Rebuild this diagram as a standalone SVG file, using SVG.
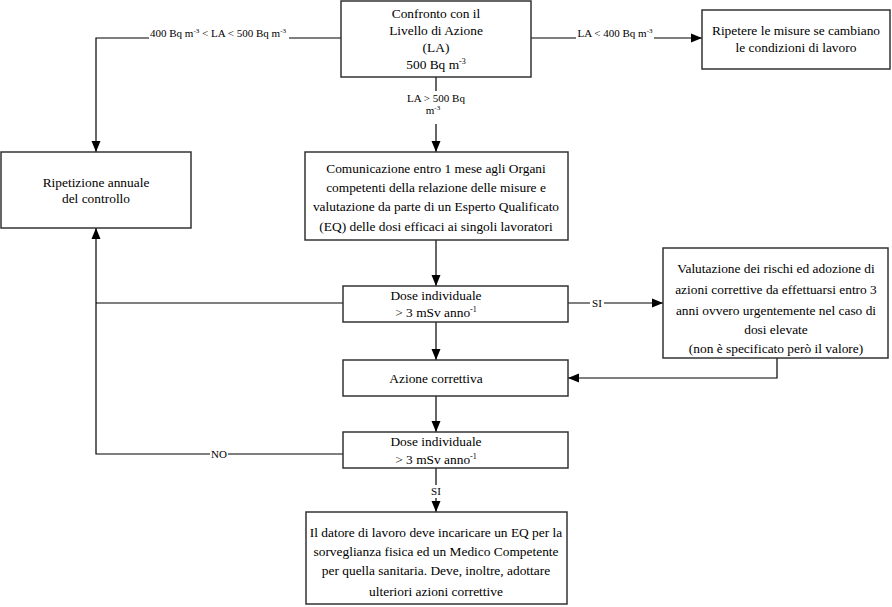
<svg xmlns="http://www.w3.org/2000/svg" width="892" height="607" viewBox="0 0 892 607">
<defs>
<marker id="ah" viewBox="0 0 11 10" refX="11" refY="5" markerWidth="11" markerHeight="10" markerUnits="userSpaceOnUse" orient="auto">
<path d="M0,0.5 L11,5 L0,9.5 Z" fill="#000"/>
</marker>
<style>
.box{fill:#fff;stroke:#333;stroke-width:1.5}
.t{font-size:13.4px;fill:#000;text-anchor:middle}
.s{font-size:11px;fill:#000;text-anchor:middle}
.c{fill:none;stroke:#000;stroke-width:1.2}
.bg{fill:#fff}
</style>
</defs>
<rect width="892" height="607" fill="#fff"/>
<g font-family="Liberation Serif, Times New Roman, serif">
<g id="connectors">
<polyline class="c" points="341,38 96,38 96,152" marker-end="url(#ah)"/>
<rect class="bg" x="149" y="28" width="140" height="14"/>
<text class="s" x="218" y="37" font-size="10.8">400 Bq m<tspan dy="-4" font-size="7">-3</tspan><tspan dy="4"> &lt; LA &lt; 500 Bq m</tspan><tspan dy="-4" font-size="7">-3</tspan></text>
<line class="c" x1="531" y1="38" x2="702" y2="38" marker-end="url(#ah)"/>
<rect class="bg" x="576" y="28" width="78" height="14"/>
<text class="s" x="615" y="37">LA &lt; 400 Bq m<tspan dy="-4" font-size="7">-3</tspan></text>
<line class="c" x1="436" y1="77" x2="436" y2="152" marker-end="url(#ah)"/>
<rect class="bg" x="404" y="91" width="64" height="33"/>
<text class="s" x="436" y="102">LA &gt; 500 Bq</text>
<text class="s" x="433" y="114">m<tspan dy="-4" font-size="7">-3</tspan></text>
<line class="c" x1="436" y1="240" x2="436" y2="286" marker-end="url(#ah)"/>
<line class="c" x1="436" y1="322" x2="436" y2="360" marker-end="url(#ah)"/>
<line class="c" x1="436" y1="396" x2="436" y2="432" marker-end="url(#ah)"/>
<line class="c" x1="436" y1="468" x2="436" y2="512" marker-end="url(#ah)"/>
<rect class="bg" x="428" y="485" width="16" height="13"/>
<text class="s" x="436" y="495">SI</text>
<line class="c" x1="568" y1="303" x2="663" y2="303" marker-end="url(#ah)"/>
<rect class="bg" x="590" y="296" width="14" height="13"/>
<text class="s" x="597" y="307">SI</text>
<polyline class="c" points="777,358 777,378 568,378" marker-end="url(#ah)"/>
<line class="c" x1="343" y1="303" x2="96" y2="303"/>
<polyline class="c" points="343,454 96,454 96,228" marker-end="url(#ah)"/>
<rect class="bg" x="210" y="448" width="18" height="12"/>
<text class="s" x="219" y="458">NO</text>
</g>
<g id="confronto">
<rect class="box" x="341" y="1" width="190" height="76"/>
<text class="t" x="436" y="18">Confronto con il</text>
<text class="t" x="436" y="35">Livello di Azione</text>
<text class="t" x="436" y="52">(LA)</text>
<text class="t" x="436" y="69">500 Bq m<tspan dy="-5" font-size="8">-3</tspan></text>
</g>
<g id="ripetere">
<rect class="box" x="702" y="10" width="188" height="59"/>
<text class="t" x="796" y="35">Ripetere le misure se cambiano</text>
<text class="t" x="796" y="52">le condizioni di lavoro</text>
</g>
<g id="ripetizione">
<rect class="box" x="1" y="152" width="190" height="76"/>
<text class="t" x="96" y="187">Ripetizione annuale</text>
<text class="t" x="96" y="203">del controllo</text>
</g>
<g id="comunicazione">
<rect class="box" x="305" y="152" width="263" height="88"/>
<text class="t" x="436" y="173" font-size="14">Comunicazione entro 1 mese agli Organi</text>
<text class="t" x="436" y="192" font-size="14">competenti della relazione delle misure e</text>
<text class="t" x="436" y="211" font-size="14">valutazione da parte di un Esperto Qualificato</text>
<text class="t" x="436" y="231" font-size="14">(EQ) delle dosi efficaci ai singoli lavoratori</text>
</g>
<g id="dose1">
<rect class="box" x="343" y="286" width="225" height="36"/>
<text class="t" x="436" y="300">Dose individuale</text>
<text class="t" x="436" y="317">&gt; 3 mSv anno<tspan dy="-5" font-size="8">-1</tspan></text>
</g>
<g id="valutazione">
<rect class="box" x="663" y="248" width="225" height="110"/>
<text class="t" x="776" y="273">Valutazione dei rischi ed adozione di</text>
<text class="t" x="776" y="294">azioni correttive da effettuarsi entro 3</text>
<text class="t" x="776" y="315">anni ovvero urgentemente nel caso di</text>
<text class="t" x="776" y="334">dosi elevate</text>
<text class="t" x="776" y="353">(non è specificato però il valore)</text>
</g>
<g id="azione">
<rect class="box" x="343" y="360" width="225" height="36"/>
<text class="t" x="436" y="383">Azione correttiva</text>
</g>
<g id="dose2">
<rect class="box" x="343" y="432" width="225" height="36"/>
<text class="t" x="436" y="446">Dose individuale</text>
<text class="t" x="436" y="464">&gt; 3 mSv anno<tspan dy="-5" font-size="8">-1</tspan></text>
</g>
<g id="datore">
<rect class="box" x="306" y="512" width="261" height="92"/>
<text class="t" x="436" y="537" font-size="13.2">Il datore di lavoro deve incaricare un EQ per la</text>
<text class="t" x="436" y="556" font-size="13.2">sorveglianza fisica ed un Medico Competente</text>
<text class="t" x="436" y="575" font-size="13.2">per quella sanitaria. Deve, inoltre, adottare</text>
<text class="t" x="436" y="596" font-size="13.2">ulteriori azioni correttive</text>
</g>
</g>
</svg>
